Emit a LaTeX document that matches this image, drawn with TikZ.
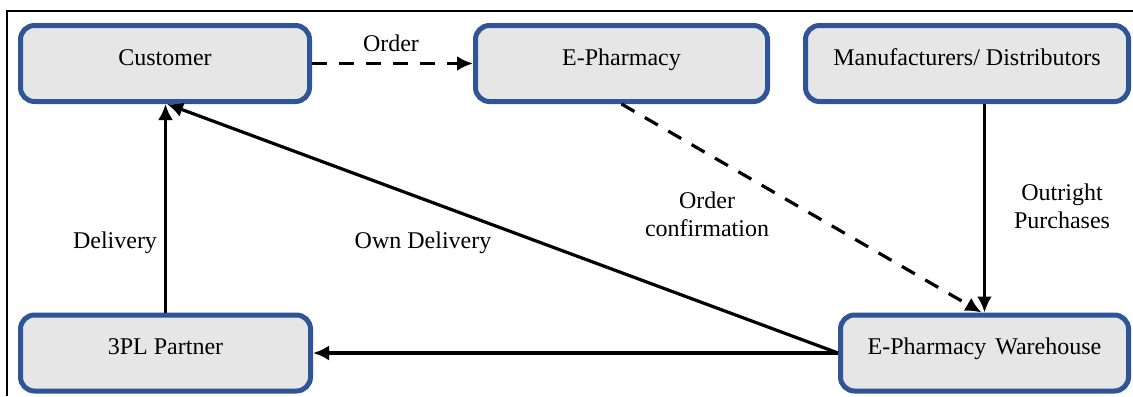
\documentclass[tikz,border=0pt]{standalone}
\usepackage{fontspec}
\setmainfont{Liberation Serif}
\usetikzlibrary{arrows.meta}
\definecolor{blue1}{HTML}{2F5597}
\definecolor{gray1}{HTML}{E6E6E6}

\begin{document}
\begin{tikzpicture}[x=0.5pt,y=-0.5pt,
  box/.style={draw=blue1,fill=gray1,line width=2.5pt,rounded corners=7pt,
    minimum height=38pt,text height=8.5pt,text depth=7pt,inner sep=0pt,
    font=\fontsize{12}{14}\selectfont},
  flow/.style={line width=1.6pt,-{Latex[length=8pt,width=7.5pt]}},
  lbl/.style={align=center,font=\fontsize{12}{14}\selectfont}]

\useasboundingbox (0,0) rectangle (1133,396);

% frame
\draw[line width=0.9pt] (7,396) -- (7,11) -- (1133,11);

% boxes
\node[box,minimum width=144.5pt] (cust) at (165,63.5) {Customer};
\node[box,minimum width=146pt] (epharm) at (621.5,63.5) {E-Pharmacy};
\node[box,minimum width=161.5pt] (mfr) at (967,63.5) {Manufacturers/ Distributors};
\node[box,minimum width=145pt] (tpl) at (165.5,353) {3PL Partner};
\node[box,minimum width=144pt] (wh) at (984.5,353) {E-Pharmacy\hspace{1.5pt} Warehouse};

% flows
\draw[flow,dashed,dash pattern=on 7.5pt off 6pt] (cust.east) -- (epharm.west);
\draw[flow,dashed,dash pattern=on 7.5pt off 6pt] (epharm.south) -- ([xshift=-1.5pt]wh.north);
\draw[flow] (wh.north |- mfr.south) -- (wh.north);
\draw[flow] (wh.west) -- (tpl.east);
\draw[flow] (wh.west) -- ([xshift=1pt]cust.south);
\draw[flow] (tpl.north) -- (tpl.north |- cust.south);

% labels
\node[lbl] (ordlbl) at (391,43) {Order};
\node[lbl] (conflbl) at (707,214) {Order\\confirmation};
\node[lbl] (purchlbl) at (1062,206) {Outright\\Purchases};
\node[lbl] (dellbl) at (115,243) {Delivery};
\node[lbl] (owndellbl) at (423,243) {Own Delivery};

\end{tikzpicture}
\end{document}
